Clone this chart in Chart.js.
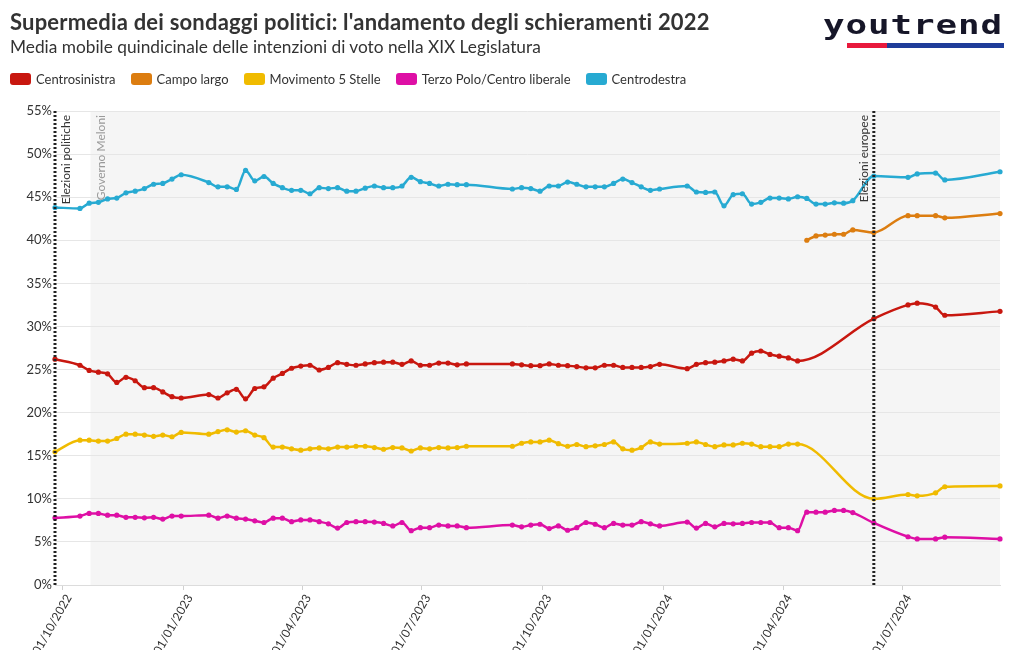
<!DOCTYPE html>
<html>
<head>
<meta charset="utf-8">
<script src="https://cdn.jsdelivr.net/npm/chart.js@4.4.0/dist/chart.umd.min.js"></script>
<style>
  body { margin: 0; background: #fff; }
  #wrap { position: relative; width: 1020px; height: 650px; overflow: hidden; font-family: Lato, sans-serif; color: #333; }
  #chart { position: absolute; left: 0; top: 0; }
  .title { position: absolute; left: 10px; top: 9px; font-size: 22px; line-height: 26px; font-weight: 700; letter-spacing: 0.2px; white-space: nowrap; }
  .sub { position: absolute; left: 10px; top: 37px; font-size: 17.3px; line-height: 20px; white-space: nowrap; }
  #legend { position: absolute; left: 10px; top: 71px; display: flex; font-size: 13px; line-height: 16px; white-space: nowrap; }
  #legend .item { display: flex; align-items: center; margin-right: 15px; }
  #legend .sw { width: 21px; height: 12px; border-radius: 3px; margin-right: 5px; }
  .logo { position: absolute; left: 823px; top: 8px; width: 181px; }
  .logo .word { font-family: "DejaVu Sans Mono", monospace; font-weight: 700; font-size: 26px; line-height: 34px;
    color: #161628; transform: scaleX(1.38); transform-origin: left; letter-spacing: 0.65px; }
  .logo .bar { position: relative; height: 5px; margin-top: 1px; margin-left: 24px; background: #1f3c99; }
  .logo .bar span { position: absolute; left: 0; top: 0; width: 40px; height: 5px; background: #e8193c; }
</style>
</head>
<body>
<div id="wrap">
  <canvas id="chart" width="1020" height="650"></canvas>
  <div class="title">Supermedia dei sondaggi politici: l'andamento degli schieramenti 2022</div>
  <div class="sub">Media mobile quindicinale delle intenzioni di voto nella XIX Legislatura</div>
  <div class="logo"><div class="word">youtrend</div><div class="bar"><span></span></div></div>
  <div id="legend"></div>
</div>
<script>
// weekly points of the rolling average (plus the two elections)
const dates = [
  '2022-09-25', '2022-10-14', '2022-10-21', '2022-10-28', '2022-11-04', '2022-11-11', '2022-11-18',
  '2022-11-25', '2022-12-02', '2022-12-09', '2022-12-16', '2022-12-23', '2022-12-30',
  '2023-01-20', '2023-01-27', '2023-02-03', '2023-02-10', '2023-02-17', '2023-02-24', '2023-03-03',
  '2023-03-10', '2023-03-17', '2023-03-24', '2023-03-31', '2023-04-07', '2023-04-14', '2023-04-21',
  '2023-04-28', '2023-05-05', '2023-05-12',
  '2023-05-19', '2023-05-26', '2023-06-02', '2023-06-09', '2023-06-16', '2023-06-23', '2023-06-30',
  '2023-07-07', '2023-07-14', '2023-07-21', '2023-07-28', '2023-08-04',
  '2023-09-08', '2023-09-15', '2023-09-22', '2023-09-29', '2023-10-06', '2023-10-13', '2023-10-20',
  '2023-10-27', '2023-11-03', '2023-11-10', '2023-11-17', '2023-11-24', '2023-12-01', '2023-12-08',
  '2023-12-15', '2023-12-22', '2023-12-29',
  '2024-01-19', '2024-01-26', '2024-02-02', '2024-02-09', '2024-02-16', '2024-02-23', '2024-03-01',
  '2024-03-08', '2024-03-15', '2024-03-22', '2024-03-29', '2024-04-05', '2024-04-12',
  '2024-04-19', '2024-04-26', '2024-05-03', '2024-05-10', '2024-05-17', '2024-05-24',
  '2024-06-09', '2024-07-05', '2024-07-12', '2024-07-26', '2024-08-02', '2024-09-13'
];

const centrosinistra = [
  26.2, 25.5, 24.9, 24.7, 24.5, 23.5, 24.1, 23.7, 22.9, 22.9, 22.4, 21.85, 21.7,
  22.1, 21.7, 22.3, 22.7, 21.6, 22.8, 23.0, 24.0, 24.55, 25.15, 25.4, 25.5, 24.95, 25.25, 25.8, 25.6, 25.5,
  25.65, 25.8, 25.85, 25.85, 25.6, 26.0, 25.5, 25.5, 25.75, 25.75, 25.55, 25.65,
  25.65, 25.55, 25.45, 25.45, 25.65, 25.5, 25.45, 25.35, 25.2, 25.2, 25.5, 25.5, 25.25, 25.25, 25.25, 25.35, 25.6,
  25.1, 25.6, 25.8, 25.85, 26.0, 26.2, 26.0, 26.9, 27.15, 26.75, 26.55, 26.35, 26.0,
  null, null, null, null, null, null,
  30.9, 32.5, 32.7, 32.25, 31.3, 31.75
];

const campoLargo = Array(72).fill(null).concat([
  40.0, 40.5, 40.6, 40.7, 40.7, 41.2,
  40.9, 42.85, 42.85, 42.85, 42.6, 43.1
]);

const m5s = [
  15.45, 16.8, 16.8, 16.7, 16.7, 17.0, 17.5, 17.5, 17.4, 17.25, 17.4, 17.2, 17.7,
  17.5, 17.8, 18.0, 17.75, 17.9, 17.4, 17.1, 16.0, 16.0, 15.8, 15.65, 15.8, 15.9, 15.8, 16.0, 16.0, 16.1,
  16.1, 15.95, 15.75, 15.95, 15.9, 15.55, 15.9, 15.8, 15.95, 15.9, 15.95, 16.1,
  16.1, 16.45, 16.6, 16.6, 16.8, 16.4, 16.1, 16.3, 16.05, 16.15, 16.3, 16.6, 15.8, 15.65, 15.95, 16.6, 16.35,
  16.45, 16.6, 16.3, 16.05, 16.25, 16.25, 16.45, 16.35, 16.05, 16.05, 16.05, 16.35, 16.35,
  null, null, null, null, null, null,
  10.0, 10.5, 10.35, 10.7, 11.4, 11.5
];

const terzoPolo = [
  7.8, 8.0, 8.3, 8.3, 8.1, 8.1, 7.85, 7.85, 7.8, 7.85, 7.65, 8.0, 8.0,
  8.1, 7.75, 8.0, 7.75, 7.65, 7.45, 7.25, 7.75, 7.75, 7.35, 7.55, 7.55, 7.35, 7.1, 6.6, 7.25, 7.35,
  7.35, 7.3, 7.15, 6.85, 7.25, 6.3, 6.65, 6.65, 6.95, 6.85, 6.85, 6.65,
  6.95, 6.75, 6.95, 7.05, 6.55, 6.85, 6.35, 6.65, 7.25, 7.05, 6.65, 7.15, 6.95, 6.95, 7.35, 7.1, 6.85,
  7.3, 6.6, 7.15, 6.75, 7.15, 7.1, 7.15, 7.25, 7.25, 7.25, 6.65, 6.65, 6.3,
  8.45, 8.45, 8.45, 8.65, 8.65, 8.4,
  7.2, 5.6, 5.35, 5.35, 5.55, 5.35
];

const centrodestra = [
  43.8, 43.7, 44.3, 44.4, 44.8, 44.9, 45.5, 45.7, 46.0, 46.5, 46.6, 47.1, 47.6,
  46.7, 46.2, 46.2, 45.9, 48.1, 46.9, 47.4, 46.6, 46.1, 45.8, 45.8, 45.4, 46.1, 46.0, 46.1, 45.7, 45.7,
  46.05, 46.3, 46.1, 46.1, 46.3, 47.3, 46.8, 46.6, 46.3, 46.5, 46.45, 46.45,
  45.95, 46.1, 46.0, 45.7, 46.3, 46.3, 46.75, 46.5, 46.2, 46.2, 46.2, 46.6, 47.1, 46.7, 46.2, 45.8, 45.95,
  46.3, 45.6, 45.55, 45.6, 44.0, 45.3, 45.4, 44.2, 44.4, 44.9, 44.9, 44.8, 45.05,
  44.85, 44.2, 44.2, 44.35, 44.3, 44.6,
  47.45, 47.3, 47.7, 47.8, 47.0, 47.95
];

const seriesNames = ['Centrosinistra', 'Campo largo', 'Movimento 5 Stelle', 'Terzo Polo/Centro liberale', 'Centrodestra'];
const seriesColors = ['#c8170f', '#dc7d10', '#f0bb00', '#de0fa5', '#27aad2'];
const seriesValues = [centrosinistra, campoLargo, m5s, terzoPolo, centrodestra];

const tickDates = ['2022-10-01', '2023-01-01', '2023-04-01', '2023-07-01', '2023-10-01', '2024-01-01', '2024-04-01', '2024-07-01'];
const tickLabels = ['01/10/2022', '01/01/2023', '01/04/2023', '01/07/2023', '01/10/2023', '01/01/2024', '01/04/2024', '01/07/2024'];

const eventDates = ['2022-09-25', '2022-10-22', '2024-06-09'];
const eventLabels = ['Elezioni politiche', 'Governo Meloni', 'Elezioni europee'];

const FONT = 'Lato, sans-serif';
const toDay = s => Date.parse(s) / 86400000;

// legend
const legend = document.getElementById('legend');
seriesNames.forEach((name, i) => {
  const item = document.createElement('div');
  item.className = 'item';
  item.innerHTML = '<span class="sw" style="background:' + seriesColors[i] + '"></span>' + name;
  legend.appendChild(item);
});

// grey band from the government start, dotted lines for the elections
const eventsPlugin = {
  id: 'events',
  beforeDraw(chart) {
    const {ctx, chartArea: a, scales: {x}} = chart;
    const x0 = x.getPixelForValue(toDay(eventDates[1]));
    ctx.save();
    ctx.fillStyle = '#f5f5f5';
    ctx.fillRect(x0, a.top, a.right - x0, a.bottom - a.top);
    ctx.restore();
  },
  afterDatasetsDraw(chart) {
    const {ctx, chartArea: a, scales: {x}} = chart;
    ctx.save();
    ctx.font = '12px ' + FONT;
    eventDates.forEach((d, i) => {
      const px = x.getPixelForValue(toDay(d));
      const isElection = i !== 1;
      if (isElection) {
        ctx.strokeStyle = '#222';
        ctx.lineWidth = 3;
        ctx.setLineDash([2, 2]);
        ctx.beginPath();
        ctx.moveTo(px, a.top);
        ctx.lineTo(px, a.bottom);
        ctx.stroke();
      }
      ctx.save();
      const left = i === 2;
      ctx.translate(left ? px - 4 : px + 5, a.top + 4);
      ctx.rotate(-Math.PI / 2);
      ctx.textAlign = 'right';
      ctx.textBaseline = left ? 'bottom' : 'top';
      ctx.fillStyle = isElection ? '#333' : '#999';
      ctx.fillText(eventLabels[i], 0, 0);
      ctx.restore();
    });
    ctx.restore();
  }
};

const datasets = seriesNames.map((name, i) => ({
  label: name,
  data: dates.map((d, j) => ({x: toDay(d), y: seriesValues[i][j]})),
  borderColor: seriesColors[i],
  backgroundColor: seriesColors[i],
  pointBackgroundColor: seriesColors[i],
  spanGaps: true,
  clip: false
}));

new Chart(document.getElementById('chart'), {
  type: 'line',
  data: {datasets: datasets},
  options: {
    responsive: false,
    animation: false,
    devicePixelRatio: 1,
    layout: {padding: {top: 111, right: 20, left: 0, bottom: 0}},
    plugins: {
      legend: {display: false},
      tooltip: {enabled: false}
    },
    elements: {
      line: {borderWidth: 2.5, cubicInterpolationMode: 'monotone'},
      point: {radius: 2.6, borderWidth: 0, hoverRadius: 3}
    },
    scales: {
      x: {
        type: 'linear',
        min: toDay(dates[0]),
        max: toDay(dates[dates.length - 1]),
        afterBuildTicks: s => { s.ticks = tickDates.map(d => ({value: toDay(d)})); },
        afterFit: s => { s.height = 65; },
        ticks: {
          autoSkip: false,
          minRotation: 60,
          maxRotation: 60,
          padding: 2,
          labelOffset: 6,
          color: '#333',
          font: {family: FONT, size: 12},
          callback: (v, i) => tickLabels[i]
        },
        grid: {drawOnChartArea: false, tickLength: 5, color: '#d0d0d0'},
        border: {color: '#dcdcdc'}
      },
      y: {
        min: 0,
        max: 55,
        afterFit: s => { s.width = 55; },
        ticks: {
          stepSize: 5,
          padding: 3,
          color: '#333',
          font: {family: FONT, size: 13},
          callback: v => v + '%'
        },
        grid: {color: '#e6e6e6', drawTicks: false},
        border: {display: false}
      }
    }
  },
  plugins: [eventsPlugin]
});
</script>
</body>
</html>
